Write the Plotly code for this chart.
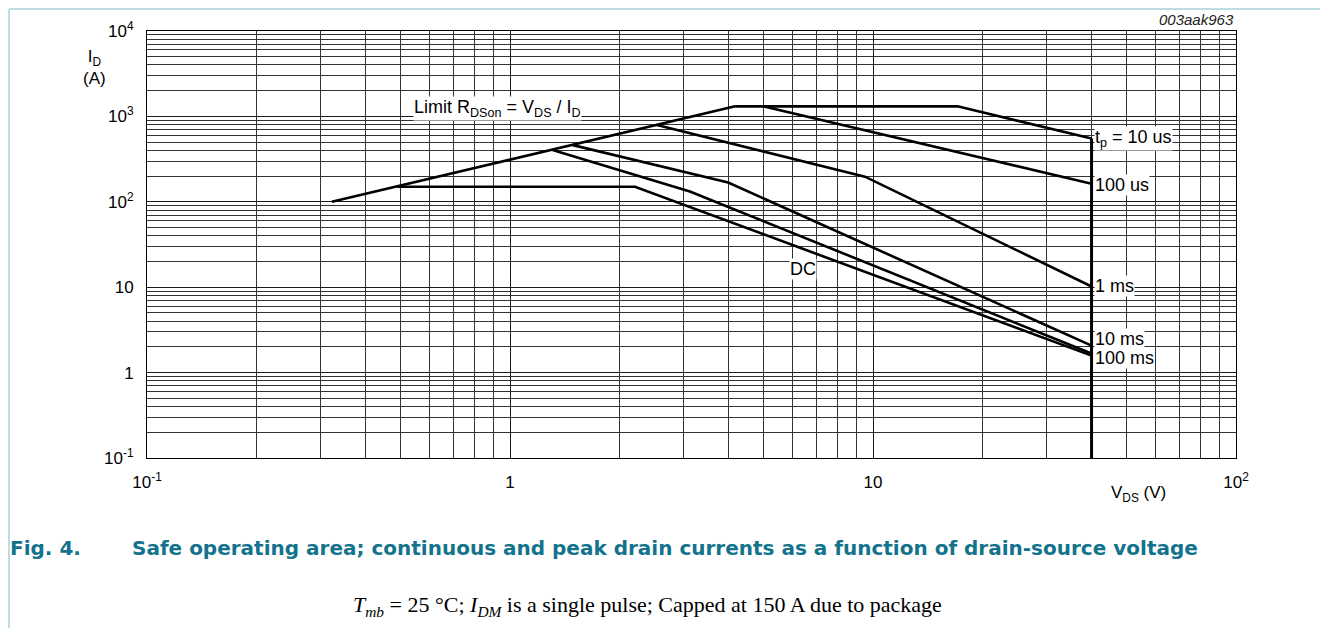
import math
import plotly.graph_objects as go

# ---- data ----
limit_vds = [0.323, 4.17]
limit_id = [100, 1312]

tp10us_vds = [4.17, 17.1, 40]
tp10us_id = [1312, 1312, 550]

tp100us_vds = [4.98, 40]
tp100us_id = [1312, 163]

tp1ms_vds = [2.54, 9.5, 40]
tp1ms_id = [791, 197, 10.2]

tp10ms_vds = [1.49, 3.99, 40]
tp10ms_id = [461, 168, 2.07]

tp100ms_vds = [1.31, 3.13, 40]
tp100ms_id = [403, 132, 1.67]

dc_vds = [0.489, 2.21, 40]
dc_id = [150, 150, 1.58]

vmax_vds = [40, 40]
vmax_id = [0.1, 550]

x_tickvals = [0.1, 1, 10, 100]
x_ticktext = ["10<sup>-1</sup>", "1", "10", "10<sup>2</sup>"]
y_tickvals = [0.1, 1, 10, 100, 1000, 10000]
y_ticktext = ["10<sup>-1</sup>", "1", "10", "10<sup>2</sup>", "10<sup>3</sup>", "10<sup>4</sup>"]

curve_labels = ["t<sub>p</sub> = 10 us", "100 us", "1 ms", "10 ms", "100 ms"]
curve_label_id = [555, 158, 10.4, 2.5, 1.47]

FONT = "Liberation Sans, Arial, sans-serif"

# plot area in page pixels (figure sits at page offset 8,8)
PL, PR, PT, PB = 147, 1236, 31, 458
W, H = PR - PL, PB - PT


def px_x(p):
    return (p - PL) / W


def px_y(p):
    return 1 - (p - PT) / H


fig = go.Figure()
series = [
    (limit_vds, limit_id, 2.6),
    (tp10us_vds, tp10us_id, 2.6),
    (tp100us_vds, tp100us_id, 2.6),
    (tp1ms_vds, tp1ms_id, 2.6),
    (tp10ms_vds, tp10ms_id, 2.6),
    (tp100ms_vds, tp100ms_id, 2.6),
    (dc_vds, dc_id, 2.6),
    (vmax_vds, vmax_id, 3),
]
for xs, ys, w in series:
    fig.add_trace(go.Scatter(x=xs, y=ys, mode="lines",
                             line=dict(color="black", width=w),
                             showlegend=False, hoverinfo="skip"))

grid_col = "#1a1a1a"
axis_common = dict(
    showgrid=True, gridcolor=grid_col, gridwidth=1,
    minor=dict(showgrid=True, gridcolor="#333333", gridwidth=1, dtick="D1", ticks=""),
    showline=True, linecolor="black", linewidth=1, mirror=True,
    ticks="", tickfont=dict(family=FONT, size=17, color="black"),
    zeroline=False, ticklabelstandoff=9,
)
fig.update_xaxes(type="log", range=[-1, 2], tickvals=x_tickvals, ticktext=x_ticktext, **axis_common)
fig.update_yaxes(type="log", range=[-1, 4], tickvals=y_tickvals, ticktext=y_ticktext, **axis_common)

ann = []
for txt, yv in zip(curve_labels, curve_label_id):
    ann.append(dict(x=math.log10(40), y=math.log10(yv), xref="x", yref="y",
                    text=txt, showarrow=False, xanchor="left", yanchor="middle",
                    xshift=2, bgcolor="white", borderpad=0,
                    font=dict(family=FONT, size=18, color="black")))
ann.append(dict(x=math.log10(6.4), y=math.log10(16.3), xref="x", yref="y",
                text="DC", showarrow=False, xanchor="center", yanchor="middle",
                bgcolor="white", borderpad=0,
                font=dict(family=FONT, size=18, color="black")))
ann.append(dict(x=math.log10(0.541), y=math.log10(1240), xref="x", yref="y",
                text="Limit R<sub>DSon</sub> = V<sub>DS</sub> / I<sub>D</sub>",
                showarrow=False, xanchor="left", yanchor="middle",
                bgcolor="white", borderpad=0,
                font=dict(family=FONT, size=18, color="black")))
# axis titles
ann.append(dict(x=px_x(94), y=px_y(45), xref="paper", yref="paper",
                text="I<sub>D</sub><br>(A)", showarrow=False, xanchor="center", yanchor="top",
                font=dict(family=FONT, size=17, color="black")))
ann.append(dict(x=px_x(1138), y=px_y(494), xref="paper", yref="paper",
                text="V<sub>DS</sub> (V)", showarrow=False, xanchor="center", yanchor="middle",
                font=dict(family=FONT, size=17, color="black")))
ann.append(dict(x=px_x(1236), y=px_y(20), xref="paper", yref="paper",
                text="<i>003aak963</i>", showarrow=False, xanchor="right", yanchor="middle",
                font=dict(family=FONT, size=15, color="#222222")))
# captions
cap_col = "#13738c"
ann.append(dict(x=px_x(8), y=px_y(548), xref="paper", yref="paper",
                text="<b>Fig. 4.</b>", showarrow=False, xanchor="left", yanchor="middle",
                font=dict(family="DejaVu Sans, sans-serif", size=20, color=cap_col)))
ann.append(dict(x=px_x(130), y=px_y(548), xref="paper", yref="paper",
                text="<b>Safe operating area; continuous and peak drain currents as a function of drain-source voltage</b>",
                showarrow=False, xanchor="left", yanchor="middle",
                font=dict(family="DejaVu Sans, sans-serif", size=20, color=cap_col)))
ann.append(dict(x=px_x(647), y=px_y(606), xref="paper", yref="paper",
                text="<i>T<sub>mb</sub></i> = 25 °C; <i>I<sub>DM</sub></i> is a single pulse; Capped at 150 A due to package",
                showarrow=False, xanchor="center", yanchor="middle",
                font=dict(family="Liberation Serif, Times New Roman, serif", size=22, color="black")))

frame_col = "#a9d3de"
shapes = [
    dict(type="line", xref="paper", yref="paper", x0=px_x(9), x1=px_x(9), y0=px_y(9), y1=px_y(628),
         line=dict(color=frame_col, width=1.5)),
    dict(type="line", xref="paper", yref="paper", x0=px_x(1326), x1=px_x(1326), y0=px_y(9), y1=px_y(628),
         line=dict(color=frame_col, width=1.5)),
    dict(type="line", xref="paper", yref="paper", x0=px_x(9), x1=px_x(1326), y0=px_y(9), y1=px_y(9),
         line=dict(color=frame_col, width=1.5)),
]

fig.update_layout(width=1320, height=620,
                  margin=dict(l=PL - 8, r=1320 - (PR - 8), t=PT - 8, b=620 - (PB - 8)),
                  paper_bgcolor="white", plot_bgcolor="white",
                  annotations=ann, shapes=shapes, showlegend=False)

fig.write_html("out.html")
